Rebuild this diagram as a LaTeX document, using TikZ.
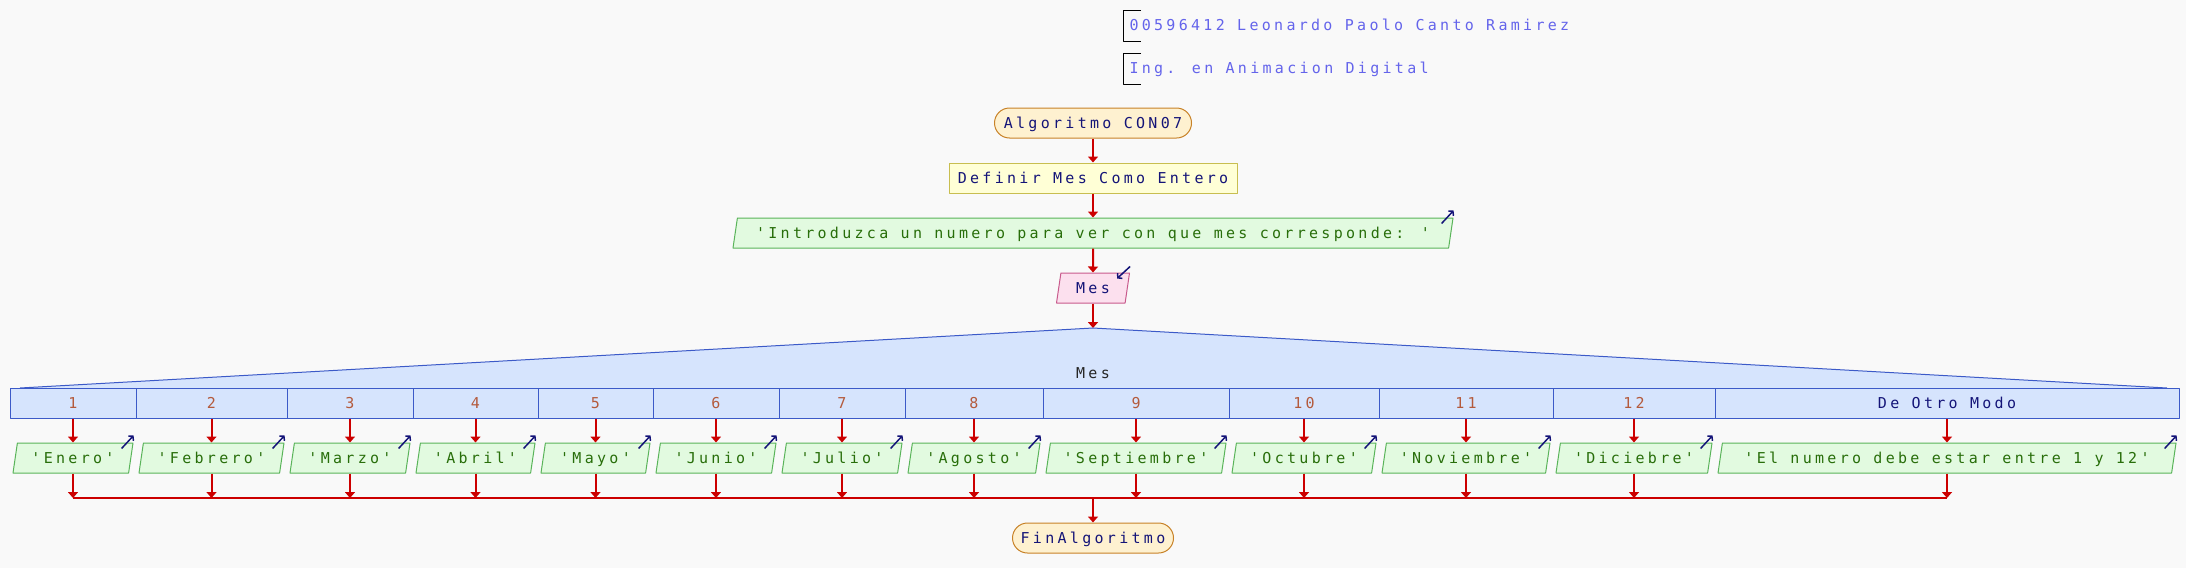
\documentclass[tikz,border=0pt]{standalone}
\usepackage{fontspec}
\usetikzlibrary{arrows.meta,shapes.geometric,calc}
\newfontfamily\psfont{DejaVu Sans Mono}[LetterSpace=22]
\definecolor{fondo}{RGB}{249,249,249}
\definecolor{flecha}{RGB}{204,0,0}
\definecolor{azul}{RGB}{20,20,120}
\definecolor{coment}{RGB}{100,100,235}
\definecolor{numero}{RGB}{180,90,60}
\definecolor{cadena}{RGB}{40,110,10}
\definecolor{iniF}{RGB}{254,241,208}
\definecolor{iniD}{RGB}{200,130,40}
\definecolor{defF}{RGB}{255,255,214}
\definecolor{defD}{RGB}{200,190,80}
\definecolor{salF}{RGB}{226,250,224}
\definecolor{salD}{RGB}{90,180,90}
\definecolor{entF}{RGB}{252,224,238}
\definecolor{entD}{RGB}{200,90,140}
\definecolor{segF}{RGB}{214,228,253}
\definecolor{segD}{RGB}{60,90,200}
\begin{document}
\begin{tikzpicture}[x=1pt, y=-1pt, line join=round, font=\psfont\fontsize{15}{18}\selectfont, >={Triangle[width=10pt,length=6pt]}]
	\tikzset{caja/.style={inner sep=0pt, text height=11pt, text depth=0pt, minimum height=30pt, line width=1pt, text=azul},
		inicio/.style={caja, draw=iniD, fill=iniF, rounded corners=15pt},
		accion/.style={caja, draw=defD, fill=defF},
		parale/.style={caja, trapezium, trapezium left angle=68.2, trapezium right angle=111.8, trapezium stretches body},
		salida/.style={parale, draw=salD, fill=salF, text=cadena},
		entrada/.style={parale, draw=entD, fill=entF},
		caso/.style={caja, draw=segD, fill=segF},
		flujo/.style={->, draw=flecha, line width=2pt},
		icono/.style={-{Straight Barb[length=3pt,width=7pt]}, draw=azul, line width=1.5pt}}
	\def\xm{1093} \def\xl{20} \def\xr{2167}
	\fill[fondo] (0,0) rectangle (2186,568);
	\useasboundingbox (0,0) rectangle (2186,568);
	% comentarios
	\node[caja, anchor=west, minimum height=0pt, text=coment] (com1) at (1129,25) {00596412 Leonardo Paolo Canto Ramirez};
	\node[caja, anchor=west, minimum height=0pt, text=coment] (com2) at (1129,68) {Ing. en Animacion Digital};
	\foreach \c in {com1,com2} \draw[line width=0.8pt] ($(\c.west)+(12,-15)$)--($(\c.west)+(-6,-15)$)--($(\c.west)+(-6,16)$)--($(\c.west)+(12,16)$);
	% bloque principal
	\node[inicio, minimum width=197pt] (ini) at (\xm,123) {Algoritmo CON07};
	\node[accion, minimum width=288pt] (def) at (\xm,178) {Definir Mes Como Entero};
	\node[salida, minimum width=720pt] (intro) at (\xm,233) {'Introduzca un numero para ver con que mes corresponde: '};
	\node[entrada, minimum width=73pt] (mes) at (\xm,288) {Mes};
	\coordinate (sw) at (\xm,328);
	\coordinate (une) at (\xm,498);
	\node[inicio, minimum width=161pt] (fin) at (\xm,538) {FinAlgoritmo};
	\draw[flujo] (ini)--(def);
	\draw[flujo] (def)--(intro);
	\draw[flujo] (intro)--(mes);
	\draw[flujo] (mes)--(sw);
	\draw[icono] ($(intro.top right corner)+(-12,6)$)--($(intro.top right corner)+(0,-7)$);
	\draw[icono] ($(mes.top right corner)+(0,-6)$)--($(mes.top right corner)+(-13,6)$);
	% segun
	\fill[segF] (\xl,388)--(sw)--(\xr,388)--cycle;
	\draw[segD, line width=1pt] (\xl,388)--(sw)--(\xr,388);
	\node[caja, text=black!85] (sel) at (\xm,373) {Mes};
	\foreach \l/\r/\t/\k/\s [count=\i] in {10/136/1/numero/'Enero', 136/287/2/numero/'Febrero', 287/413/3/numero/'Marzo', 413/538/4/numero/'Abril', 538/653/5/numero/'Mayo', 653/779/6/numero/'Junio', 779/905/7/numero/'Julio', 905/1043/8/numero/'Agosto', 1043/1229/9/numero/'Septiembre', 1229/1379/10/numero/'Octubre', 1379/1553/11/numero/'Noviembre', 1553/1715/12/numero/'Diciebre', 1715/2179/De Otro Modo/azul/'El numero debe estar entre 1 y 12'} {
		\node[caso, minimum width=\r-\l, text=\k] (c\i) at ({(\l+\r)/2},403) {\t};
		\node[salida, minimum width=\r-\l-6] (o\i) at ({(\l+\r)/2},458) {\s};
		\draw[flujo] (c\i)--(o\i);
		\draw[flujo] (o\i)--(o\i |- une);
		\draw[icono] ($(o\i.top right corner)+(-12,6)$)--($(o\i.top right corner)+(0,-7)$);
	}
	\draw[flujo, -] (o1 |- une)--(o13 |- une);
	\draw[flujo] (une)--(fin);
\end{tikzpicture}
\end{document}
